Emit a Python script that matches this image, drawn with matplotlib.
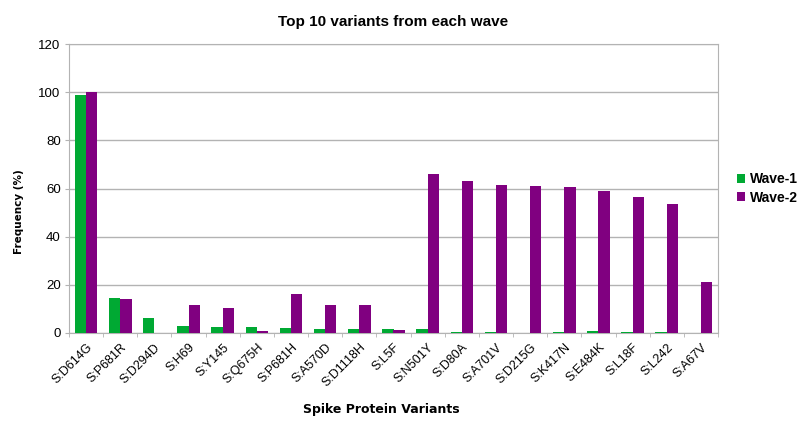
import numpy as np
import matplotlib.pyplot as plt

variants = ['S:D614G', 'S:P681R', 'S:D294D', 'S:H69', 'S:Y145', 'S:Q675H',
            'S:P681H', 'S:A570D', 'S:D1118H', 'S:L5F', 'S:N501Y', 'S:D80A',
            'S:A701V', 'S:D215G', 'S:K417N', 'S:E484K', 'S:L18F', 'S:L242',
            'S:A67V']
wave1 = [98.8, 14.5, 6.3, 2.7, 2.5, 2.3, 2.2, 1.7, 1.7, 1.7, 1.8, 0.3,
         0.6, 0.2, 0.3, 0.7, 0.3, 0.3, 0.1]
wave2 = [100.0, 14.0, 0.0, 11.5, 10.2, 0.7, 16.0, 11.5, 11.8, 1.2, 66.0,
         63.0, 61.5, 61.0, 60.5, 59.0, 56.5, 53.5, 21.0]

plt.rcParams['font.family'] = ['Liberation Sans', 'DejaVu Sans']

fig = plt.figure(figsize=(8, 4.3), dpi=100)
ax = fig.add_axes([0.08625, 0.2256, 0.81125, 0.672])

x = np.arange(len(variants))
w = 0.33
ax.bar(x - w / 2, wave1, w, color='#00a933', label='Wave-1', zorder=3)
ax.bar(x + w / 2, wave2, w, color='#800080', label='Wave-2', zorder=3)

ax.set_xlim(-0.5, len(variants) - 0.5)
ax.set_ylim(0, 120)
ax.set_yticks(range(0, 121, 20))
ax.yaxis.grid(True, color='#b3b3b3', linewidth=1, zorder=0)
for s in ax.spines.values():
    s.set_color('#b3b3b3')
ax.tick_params(axis='y', length=3, color='#b3b3b3', labelsize=9.5, pad=3)
ax.set_xticks(x)
ax.set_xticklabels(variants, rotation=45, ha='right', rotation_mode='anchor', fontsize=9)
ax.set_xticks(np.arange(-0.5, len(variants)), minor=True)
ax.tick_params(axis='x', which='major', length=0, pad=6)
ax.tick_params(axis='x', which='minor', length=3, color='#b3b3b3')

ax.set_title('Top 10 variants from each wave', fontsize=11, fontweight='bold', pad=13)
# axis titles sit where the reference puts them
fig.text(381 / 800, 1 - 410 / 430, 'Spike Protein Variants', family='DejaVu Sans',
         fontsize=9, fontweight='bold', ha='center', va='center')
fig.text(19 / 800, 1 - 212 / 430, 'Frequency (%)', family='DejaVu Sans',
         fontsize=7.5, fontweight='bold', ha='center', va='center', rotation=90)

ax.legend(loc='center left', bbox_to_anchor=(1.01, 0.5), frameon=False,
          prop={'weight': 'bold', 'size': 10}, handlelength=0.6, handleheight=0.6,
          handletextpad=0.3, labelspacing=0.3)

fig.savefig('out.png', dpi=100)
